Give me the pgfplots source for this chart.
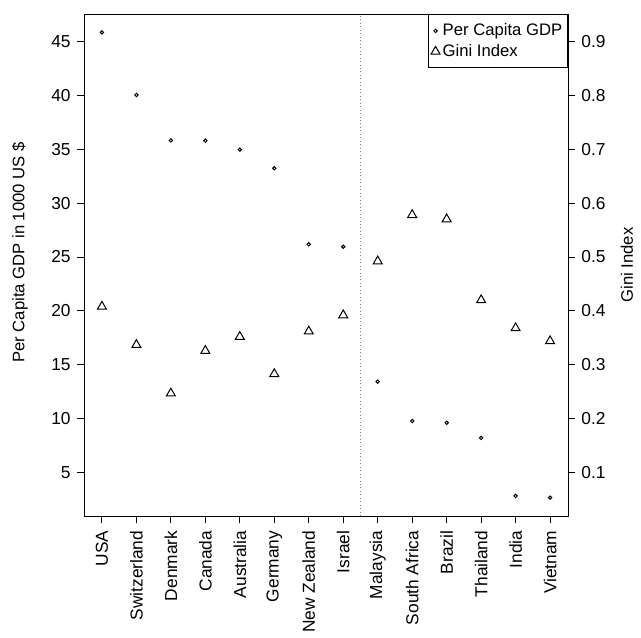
\documentclass[border=0pt]{standalone}
\usepackage{fontspec}
\setmainfont{Liberation Sans}
\usepackage{pgfplots}
\pgfplotsset{compat=1.18}
\newcommand{\rfont}{\fontsize{12.5}{14}\selectfont}
\newcommand{\tfont}{\fontsize{13}{15}\selectfont}
\begin{document}
\begin{tikzpicture}
\useasboundingbox (-63pt,-90.75pt) rectangle (417.75pt,387pt);
\begin{axis}[
  at={(0pt,0pt)}, anchor=south west,
  scale only axis, width=363pt, height=376.5pt,
  xmin=0.48, xmax=14.52, ymin=0.98, ymax=47.53,
  axis line style={line width=0.7pt},
  tick style={black, line width=0.7pt},
  tick align=outside, major tick length=5.5pt,
  xtick pos=bottom, ytick pos=left,
  xtick={1,...,14},
  xticklabels={USA,Switzerland,Denmark,Canada,Australia,Germany,New Zealand,Israel,Malaysia,South Africa,Brazil,Thailand,India,Vietnam},
  xticklabel style={rotate=90, anchor=east, font=\tfont, xshift=-2pt},
  ytick={5,10,...,45},
  yticklabel style={font=\tfont, xshift=-1pt},
  /pgf/number format/assume math mode=true,
  ylabel={Per Capita GDP in 1000 US \$},
  ylabel style={font=\rfont, at={(axis description cs:-0.1322,0.525)}, anchor=center, rotate=0},
]
\addplot[only marks, mark=o, mark size=1.25pt, mark options={line width=0.75pt, black}] coordinates {
(1,45.83) (2,40.02) (3,35.82) (4,35.78) (5,34.95) (6,33.22) (7,26.17) (8,25.95)
(9,13.44) (10,9.79) (11,9.63) (12,8.22) (13,2.84) (14,2.68)
};
\draw[dotted, gray, line width=0.6pt] (axis cs:8.5,0.98) -- (axis cs:8.5,47.53);
\end{axis}
\begin{axis}[
  at={(0pt,0pt)}, anchor=south west,
  scale only axis, width=363pt, height=376.5pt,
  xmin=0.48, xmax=14.52, ymin=0.0196, ymax=0.9506,
  axis x line=none, axis y line*=right,
  axis line style={line width=0.7pt, -},
  tick style={black, line width=0.7pt},
  tick align=outside, major tick length=5.5pt,
  ytick={0.1,0.2,...,0.9},
  yticklabel style={font=\tfont, xshift=1pt, /pgf/number format/.cd, fixed, fixed zerofill, precision=1},
  /pgf/number format/assume math mode=true,
  ylabel={Gini Index},
  ylabel style={font=\rfont, at={(axis description cs:1.1219,0.5)}, anchor=center, rotate=0},
  legend style={at={(1,1)}, anchor=north east, draw=black, line width=0.7pt, font=\rfont,
    inner xsep=2pt, inner ysep=5pt, row sep=1pt, cells={anchor=west}},
  legend cell align=left,
  legend image code/.code={\draw[mark repeat=2,mark phase=2,#1] plot coordinates {(0pt,0pt) (5.5pt,0pt) (9pt,0pt)};},
]
\addlegendimage{only marks, mark=o, mark size=1.25pt, mark options={line width=0.75pt, black}}
\addlegendentry{Per Capita GDP}
\addplot[only marks, mark=triangle, mark size=3.9pt, mark options={line width=0.75pt, black}] coordinates {
(1,0.408) (2,0.337) (3,0.247) (4,0.326) (5,0.352) (6,0.283) (7,0.362) (8,0.392)
(9,0.492) (10,0.578) (11,0.570) (12,0.420) (13,0.368) (14,0.344)
};
\addlegendentry{Gini Index}
\end{axis}
\end{tikzpicture}
\end{document}
